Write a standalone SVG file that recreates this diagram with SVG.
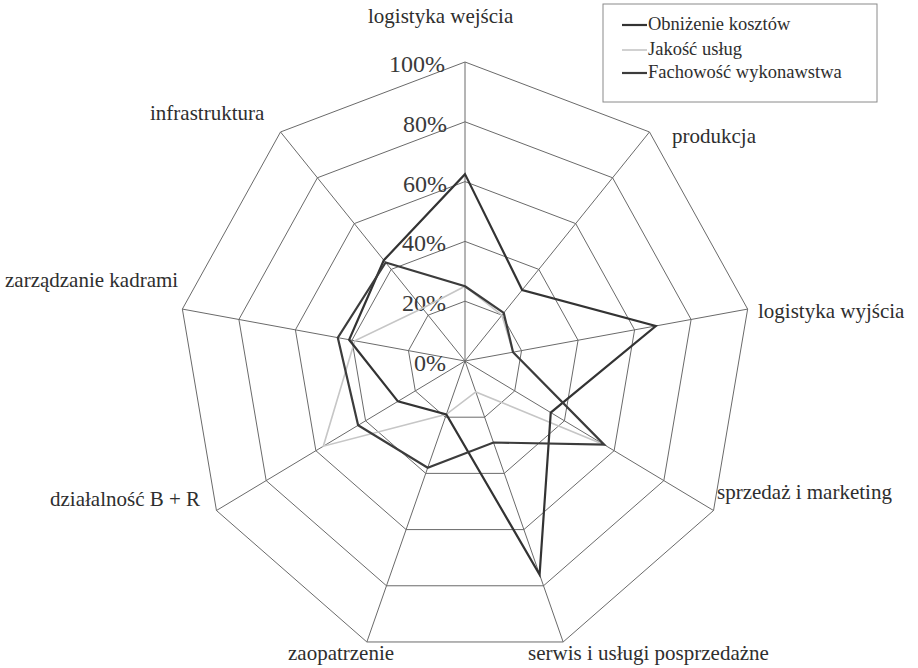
<svg xmlns="http://www.w3.org/2000/svg" width="918" height="668" viewBox="0 0 918 668">
<style>
.bg{fill:#ffffff}
.ring{fill:none;stroke:#6a6a6a;stroke-width:1}
.spoke{stroke:#6a6a6a;stroke-width:1}
text{font-family:'Liberation Serif','DejaVu Serif',serif}
.lbl{font-size:21px;fill:#2e2e2e}
.pct{font-size:24px;fill:#3a3a3a;text-anchor:end}
.leg{font-size:18.5px;fill:#2e2e2e}
.s1{fill:none;stroke:#333333;stroke-width:2.2;stroke-linejoin:miter}
.s2{fill:none;stroke:#c6c6c6;stroke-width:1.6;stroke-linejoin:miter}
.s3{fill:none;stroke:#3c3c3c;stroke-width:2.2;stroke-linejoin:miter}
</style>
<rect class="bg" x="0" y="0" width="918" height="668"/>
<g id="grid">
<polygon class="ring" points="465,62 649.48,131.97 747.64,309.09 713.54,510.5 563.15,641.97 366.85,641.97 216.46,510.5 182.36,309.09 280.52,131.97"/>
<polygon class="ring" points="465,121.8 612.58,177.78 691.11,319.47 663.83,480.6 543.52,585.78 386.48,585.78 266.17,480.6 238.89,319.47 317.42,177.78"/>
<polygon class="ring" points="465,181.6 575.69,223.58 634.58,329.85 614.12,450.7 523.89,529.58 406.11,529.58 315.88,450.7 295.42,329.85 354.31,223.58"/>
<polygon class="ring" points="465,241.4 538.79,269.39 578.06,340.24 564.42,420.8 504.26,473.39 425.74,473.39 365.58,420.8 351.94,340.24 391.21,269.39"/>
<polygon class="ring" points="465,301.2 501.9,315.19 521.53,350.62 514.71,390.9 484.63,417.19 445.37,417.19 415.29,390.9 408.47,350.62 428.1,315.19"/>
<line class="spoke" x1="465" y1="361" x2="465" y2="62"/>
<line class="spoke" x1="465" y1="361" x2="649.48" y2="131.97"/>
<line class="spoke" x1="465" y1="361" x2="747.64" y2="309.09"/>
<line class="spoke" x1="465" y1="361" x2="713.54" y2="510.5"/>
<line class="spoke" x1="465" y1="361" x2="563.15" y2="641.97"/>
<line class="spoke" x1="465" y1="361" x2="366.85" y2="641.97"/>
<line class="spoke" x1="465" y1="361" x2="216.46" y2="510.5"/>
<line class="spoke" x1="465" y1="361" x2="182.36" y2="309.09"/>
<line class="spoke" x1="465" y1="361" x2="280.52" y2="131.97"/>
</g>
<g id="scale-labels" font-family="'Liberation Serif', 'DejaVu Serif', serif">
<text class="pct" x="446" y="371">0%</text>
<text class="pct" x="446" y="311">20%</text>
<text class="pct" x="446" y="251">40%</text>
<text class="pct" x="447" y="192">60%</text>
<text class="pct" x="447" y="132">80%</text>
<text class="pct" x="445" y="72">100%</text>
</g>
<g id="series">
<polygon id="series-jakosc" class="s2" points="465,286.25 501.9,315.19 513.05,352.18 604.18,444.72 475.8,391.91 446.35,414.38 323.33,446.22 354.77,340.76 422.57,308.32"/>
<polygon id="series-obnizenie" class="s1" points="465,174.13 522.19,290 655.8,326 550.75,412.58 539.59,574.54 446.35,414.38 397.89,401.37 349.12,339.72 383.83,260.23"/>
<polygon id="series-fachowosc" class="s3" points="465,286.25 503.74,312.9 513.05,352.18 604.18,444.72 493.46,442.48 427.7,467.77 358.13,425.29 337.81,337.64 385.67,262.52"/>
</g>
<g id="axis-labels" font-family="'Liberation Serif', 'DejaVu Serif', serif">
<text class="lbl" x="368" y="23">logistyka wejścia</text>
<text class="lbl" x="672" y="143">produkcja</text>
<text class="lbl" x="758" y="318">logistyka wyjścia</text>
<text class="lbl" x="717" y="499">sprzedaż i marketing</text>
<text class="lbl" x="528" y="660">serwis i usługi posprzedażne</text>
<text class="lbl" x="288" y="660">zaopatrzenie</text>
<text class="lbl" x="50" y="506">działalność B + R</text>
<text class="lbl" x="5" y="287">zarządzanie kadrami</text>
<text class="lbl" x="150" y="120">infrastruktura</text>
</g>
<g id="legend" font-family="'Liberation Serif', 'DejaVu Serif', serif">
<rect x="603" y="4" width="274" height="98" fill="#ffffff" stroke="#8a8a8a" stroke-width="1"/>
<line x1="622" y1="25" x2="647" y2="25" class="s1"/>
<text class="leg" x="648" y="30">Obniżenie kosztów</text>
<line x1="622" y1="50" x2="647" y2="50" class="s2"/>
<text class="leg" x="648" y="55">Jakość usług</text>
<line x1="622" y1="73" x2="647" y2="73" class="s3"/>
<text class="leg" x="648" y="78">Fachowość wykonawstwa</text>
</g>
</svg>
